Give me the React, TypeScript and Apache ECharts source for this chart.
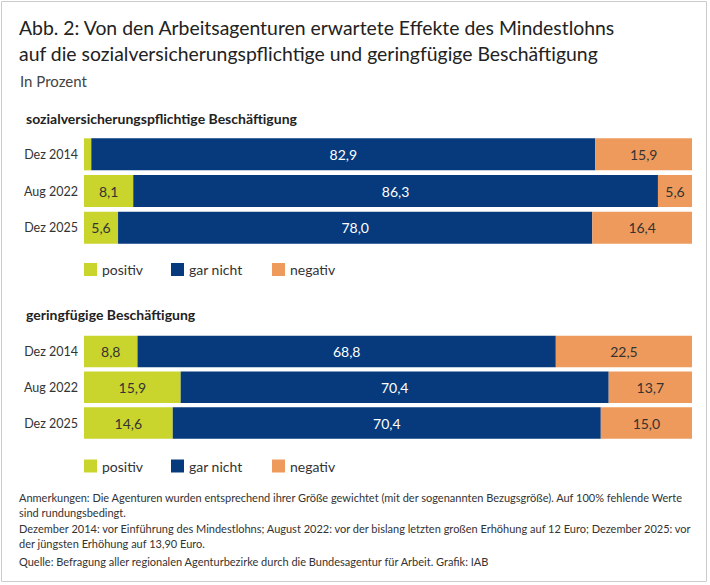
import React, { useEffect, useRef } from 'react';
import * as echarts from 'echarts';

// Kategorien und Werte (in Prozent)
const categories = ['Dez 2014', 'Aug 2022', 'Dez 2025'];
const seriesNames = ['positiv', 'gar nicht', 'negativ'];
const svbPositiv = [1.2, 8.1, 5.6];
const svbGarNicht = [82.9, 86.3, 78.0];
const svbNegativ = [15.9, 5.6, 16.4];
const gfbPositiv = [8.8, 15.9, 14.6];
const gfbGarNicht = [68.8, 70.4, 70.4];
const gfbNegativ = [22.5, 13.7, 15.0];

const colors = ['#c9d42c', '#063a7c', '#ee9a5c'];
const textColors = ['#333333', '#ffffff', '#333333'];

const FONT = 'Lato, "Noto Sans", sans-serif';

const titleLines = [
  'Abb. 2: Von den Arbeitsagenturen erwartete Effekte des Mindestlohns',
  'auf die sozialversicherungspflichtige und geringfügige Beschäftigung',
];
const subtitle = 'In Prozent';
const sectionTitles = ['sozialversicherungspflichtige Beschäftigung', 'geringfügige Beschäftigung'];
const footerLines = [
  'Anmerkungen: Die Agenturen wurden entsprechend ihrer Größe gewichtet (mit der sogenannten Bezugsgröße). Auf 100% fehlende Werte',
  'sind rundungsbedingt.',
  'Dezember 2014: vor Einführung des Mindestlohns; August 2022: vor der bislang letzten großen Erhöhung auf 12 Euro; Dezember 2025: vor',
  'der jüngsten Erhöhung auf 13,90 Euro.',
  'Quelle: Befragung aller regionalen Agenturbezirke durch die Bundesagentur für Arbeit. Grafik: IAB',
];

const fmt = (v: number) => (v < 3 ? '' : v.toFixed(1).replace('.', ','));

const App: React.FC = () => {
  const chartRef = useRef<HTMLDivElement>(null);

  useEffect(() => {
    if (!chartRef.current) return;
    const chart = echarts.init(chartRef.current, null, { renderer: 'svg' });

    const groups = [
      { data: [svbPositiv, svbGarNicht, svbNegativ], top: 136, height: 110, barWidth: 32, legendTop: 262.5 },
      { data: [gfbPositiv, gfbGarNicht, gfbNegativ], top: 333.5, height: 107.5, barWidth: 31.5, legendTop: 459 },
    ];

    const series: any[] = [];
    groups.forEach((g, gi) => {
      g.data.forEach((values, si) => {
        series.push({
          type: 'bar',
          name: seriesNames[si],
          stack: 'g' + gi,
          xAxisIndex: gi,
          yAxisIndex: gi,
          barWidth: g.barWidth,
          data: values,
          itemStyle: { color: colors[si] },
          label: {
            show: true,
            position: 'inside',
            color: textColors[si],
            fontFamily: FONT,
            fontSize: 14,
            formatter: (p: any) => fmt(p.value),
          },
        });
      });
    });

    const legendLefts = [84, 171, 272];
    const legends: any[] = [];
    groups.forEach((g) => {
      seriesNames.forEach((n, i) => {
        legends.push({
          data: [n],
          left: legendLefts[i],
          top: g.legendTop,
          padding: 0,
          itemWidth: 13,
          itemHeight: 13,
          icon: 'rect',
          selectedMode: false,
          textStyle: { fontFamily: FONT, fontSize: 14, color: '#333' },
        });
      });
    });

    const text = (t: string, x: number, y: number, size: number, color: string, weight: any = 'normal') => ({
      type: 'text',
      x,
      y,
      style: { text: t, fontFamily: FONT, fontSize: size, fill: color, fontWeight: weight, textVerticalAlign: 'middle' },
    });

    const footerY = [497, 512, 528, 543, 561];

    chart.setOption({
      animation: false,
      backgroundColor: '#ffffff',
      grid: groups.map((g) => ({ left: 84, right: 18, top: g.top, height: g.height })),
      xAxis: groups.map((_, i) => ({ type: 'value', gridIndex: i, min: 0, max: 100, show: false })),
      yAxis: groups.map((_, i) => ({
        type: 'category',
        gridIndex: i,
        inverse: true,
        data: categories,
        axisLine: { show: false },
        axisTick: { show: false },
        axisLabel: { margin: 6, fontFamily: FONT, fontSize: 12.5, color: '#333' },
      })),
      legend: legends,
      series,
      graphic: [
        {
          type: 'rect',
          shape: { x: 1.5, y: 1.5, width: 705, height: 580 },
          style: { fill: 'none', stroke: '#cccccc', lineWidth: 1 },
          silent: true,
        },
        text(titleLines[0], 19, 27, 19.4, '#222'),
        text(titleLines[1], 19, 53, 19.4, '#222'),
        text(subtitle, 20, 81, 15, '#444'),
        text(sectionTitles[0], 26, 118, 14, '#222', 'bold'),
        text(sectionTitles[1], 26, 314, 14, '#222', 'bold'),
        ...footerLines.map((l, i) => text(l, 19, footerY[i], 11, '#333')),
      ],
    });

    return () => chart.dispose();
  }, []);

  return <div ref={chartRef} style={{ position: 'fixed', left: 0, top: 0, width: 710, height: 585 }} />;
};

export default App;
